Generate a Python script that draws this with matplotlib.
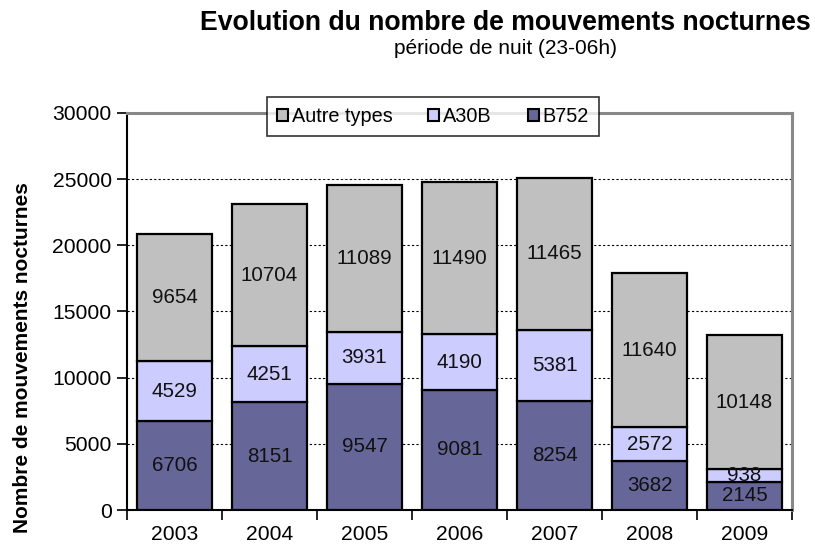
import matplotlib
matplotlib.use("Agg")
import matplotlib.pyplot as plt
import numpy as np
from matplotlib.patches import Patch

plt.rcParams['font.family'] = ['Liberation Sans', 'DejaVu Sans']

years = ["2003", "2004", "2005", "2006", "2007", "2008", "2009"]
b752 = [6706, 8151, 9547, 9081, 8254, 3682, 2145]
a30b = [4529, 4251, 3931, 4190, 5381, 2572, 938]
autre = [9654, 10704, 11089, 11490, 11465, 11640, 10148]

series_names = ["Autre types", "A30B", "B752"]
colors = {"B752": "#666699", "A30B": "#CCCCFF", "Autre types": "#C0C0C0"}

fig = plt.figure(figsize=(8.15, 5.45), dpi=100)
ax = fig.add_axes([0.1558, 0.0642, 0.816, 0.7285])

x = np.arange(len(years))
w = 0.78
b752 = np.array(b752); a30b = np.array(a30b); autre = np.array(autre)
stacks = [("B752", b752, np.zeros(len(years))),
          ("A30B", a30b, b752),
          ("Autre types", autre, b752 + a30b)]
for name, vals, bottom in stacks:
    ax.bar(x, vals, w, bottom=bottom, color=colors[name], edgecolor='black',
           linewidth=1.6, zorder=3)
    for xi, v, b in zip(x, vals, bottom):
        ax.text(xi, b + v / 2, f"{v}", ha='center', va='center', fontsize=14.8,
                color='#111111', zorder=4)

ax.set_xlim(-0.5, len(years) - 0.5)
ax.set_ylim(0, 30000)
ax.set_yticks(np.arange(0, 30001, 5000))
ax.set_yticklabels([str(v) for v in range(0, 30001, 5000)], fontsize=15.2)
ax.set_xticks(x)
ax.set_xticklabels(years, fontsize=15.2)
ax.set_xticks(np.arange(-0.5, len(years), 1), minor=True)
ax.tick_params(axis='x', which='major', length=0, pad=11)
ax.tick_params(axis='x', which='minor', length=7, width=1.2, direction='out')
ax.tick_params(axis='y', length=7, width=1.2, direction='out', pad=4)

ax.yaxis.grid(True, color='black', linestyle=(0, (2, 2)), linewidth=0.8, zorder=0)
ax.set_axisbelow(True)

for s in ['left', 'bottom']:
    ax.spines[s].set_color('black')
    ax.spines[s].set_linewidth(1.5)
for s in ['top', 'right']:
    ax.spines[s].set_color('#888888')
    ax.spines[s].set_linewidth(2.2)

ax.set_ylabel("Nombre de mouvements nocturnes", fontsize=15, fontweight='bold')
ax.yaxis.set_label_coords(-0.143, 0.385)

handles = [Patch(facecolor=colors[n], edgecolor='black', linewidth=1.5) for n in series_names]
leg = ax.legend(handles, series_names, loc='center', bbox_to_anchor=(0.46, 0.991),
                ncol=3, fontsize=14.3, frameon=True, fancybox=False, edgecolor='black',
                handlelength=0.55, handleheight=0.55, handletextpad=0.2, columnspacing=1.8,
                borderpad=0.5)
leg.get_frame().set_linewidth(1.2)
leg.set_zorder(5)

fig.text(0.62, 0.957, "Evolution du nombre de mouvements nocturnes", ha='center', va='center',
         fontsize=19.2, fontweight='bold')
fig.text(0.62, 0.911, "période de nuit (23-06h)", ha='center', va='center', fontsize=15)

fig.savefig("out.png", dpi=100)
